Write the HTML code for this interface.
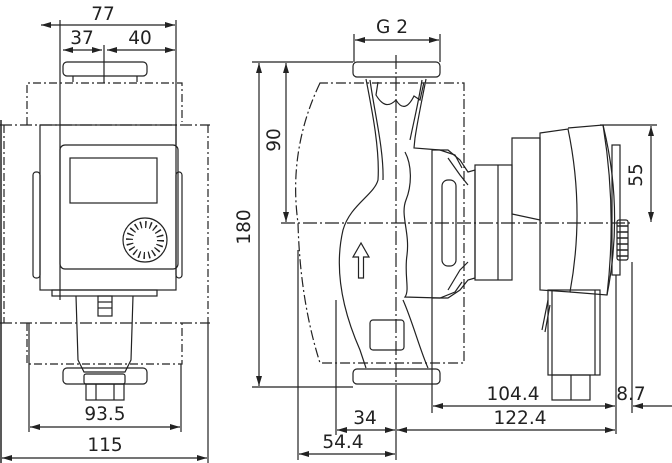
<!DOCTYPE html>
<html><head><meta charset="utf-8"><style>
html,body{margin:0;padding:0;background:#fff;}
svg{display:block;}
text{font-family:"DejaVu Sans","Liberation Sans",sans-serif;font-size:18.5px;fill:#222;}
</style></head><body>
<svg width="672" height="463" viewBox="0 0 672 463" xmlns="http://www.w3.org/2000/svg">
<defs>
<marker id="a" viewBox="0 0 10 6" refX="10" refY="3" markerWidth="10" markerHeight="6" orient="auto-start-reverse" markerUnits="userSpaceOnUse"><path d="M0,0 L10,3 L0,6 z" fill="#222"/></marker>
</defs>
<g fill="none" stroke="#222" stroke-width="1.2">
<line x1="60" y1="20" x2="60" y2="300"/>
<line x1="176" y1="20" x2="176" y2="145"/>
<line x1="41" y1="25" x2="175" y2="25" marker-start="url(#a)" marker-end="url(#a)"/>
<line x1="63" y1="50" x2="102" y2="50" marker-start="url(#a)" marker-end="url(#a)"/>
<line x1="107" y1="50" x2="175" y2="50" marker-start="url(#a)" marker-end="url(#a)"/>
<line x1="104" y1="45" x2="104" y2="83"/>
<rect x="63" y="62" width="84" height="14" rx="4"/>
<line x1="73" y1="76" x2="73" y2="82"/><line x1="137" y1="76" x2="137" y2="82"/>
<path d="M27,125 V83 H182 V122" stroke-dasharray="8,3,2,3"/>
<line x1="0" y1="125" x2="210" y2="125" stroke-dasharray="12,3,2,3"/>
<line x1="4" y1="125" x2="4" y2="323" stroke-dasharray="8,3,2,3"/>
<line x1="208" y1="125" x2="208" y2="323" stroke-dasharray="8,3,2,3"/>
<line x1="1" y1="120" x2="1" y2="463" stroke-width="1.5"/>
<line x1="0" y1="323" x2="210" y2="323" stroke-dasharray="12,3,2,3"/>
<path d="M27,323 V364 H182 V323" stroke-dasharray="8,3,2,3"/>
<rect x="40" y="125" width="136" height="165"/>
<rect x="33" y="172" width="7" height="106" rx="3"/>
<rect x="176" y="172" width="6" height="106" rx="3"/>
<rect x="60" y="145" width="118" height="124" rx="5"/>
<rect x="70" y="158" width="87" height="45"/>
<circle cx="145" cy="240" r="22"/>
<circle cx="145" cy="240" r="15.5" stroke-width="7" stroke-dasharray="1.4,3.47"/>
<circle cx="145" cy="240" r="12" fill="#fff" stroke="none"/>
<rect x="52" y="290" width="105" height="6"/>
<path d="M76,296 L78,360 L84,372 L125,372 L131,360 L133,296"/>
<rect x="98" y="296" width="14" height="20"/>
<line x1="98" y1="302" x2="112" y2="302"/><line x1="98" y1="308" x2="112" y2="308"/>
<rect x="63" y="368" width="84" height="16" rx="4"/>
<rect x="84" y="374" width="41" height="10" rx="2"/>
<rect x="86" y="384" width="38" height="16"/>
<line x1="96" y1="384" x2="96" y2="400"/><line x1="114" y1="384" x2="114" y2="400"/>
<line x1="29" y1="323" x2="29" y2="432"/>
<line x1="181" y1="364" x2="181" y2="432"/>
<line x1="30" y1="427" x2="180" y2="427" marker-start="url(#a)" marker-end="url(#a)"/>
<line x1="208" y1="323" x2="208" y2="463"/>
<line x1="2" y1="458" x2="207" y2="458" marker-start="url(#a)" marker-end="url(#a)"/>

<line x1="354" y1="34" x2="354" y2="62"/><line x1="440" y1="34" x2="440" y2="62"/>
<line x1="355" y1="40" x2="439" y2="40" marker-start="url(#a)" marker-end="url(#a)"/>
<rect x="353" y="62" width="87" height="15" rx="4"/>
<rect x="353" y="369" width="87" height="15" rx="4"/>
<line x1="396" y1="55" x2="396" y2="392" stroke-dasharray="14,3,2,3"/>
<line x1="252" y1="62" x2="353" y2="62"/>
<line x1="252" y1="387" x2="353" y2="387"/>
<line x1="259" y1="63" x2="259" y2="386" marker-start="url(#a)" marker-end="url(#a)"/>
<line x1="286" y1="63" x2="286" y2="222" marker-start="url(#a)" marker-end="url(#a)"/>
<line x1="281" y1="223" x2="632" y2="223" stroke-dasharray="14,3,2,3"/>
<path d="M320,83 Q288,150 298,223 Q300,300 320,363 H464 V83 Z" stroke-dasharray="10,3,2,3"/>
<path d="M366,79 C372,110 380,150 378,180 C374,195 350,205 343,230 C336,260 338,300 360,350 L366,368"/>
<path d="M426,79 C422,100 418,118 415,138 L414,148 L440,150 L455,155 L462,168"/>
<path d="M370,80 C374,110 384,150 383,180 M422,80 C418,105 413,125 410,140"/>
<path d="M378,82 L376,95 C382,105 388,108 396,100 C402,110 408,108 414,96 L420,100 L424,82"/>
<path d="M405,152 C412,165 412,185 406,200 C400,215 410,232 407,255 C404,275 410,290 405,297 L440,298 L455,292 L462,282"/>
<path d="M403,300 C412,320 420,350 428,368"/>
<path d="M361,243 L353,257 L358.5,257 L358.5,278 L363.5,278 L363.5,257 L369,257 Z"/>
<rect x="370" y="320" width="34" height="30" rx="3"/>
<line x1="432" y1="150" x2="432" y2="413"/>
<path d="M432,150 H448 L460,160 L468,172 L475,170 V278 L468,280 L460,290 L448,298 H432"/>
<rect x="442" y="180" width="14" height="86" rx="6"/>
<path d="M448,158 L460,175 L468,185 M448,290 L460,270 L468,262"/>
<rect x="475" y="165" width="37" height="115"/>
<line x1="498" y1="165" x2="498" y2="280"/>
<path d="M512,138 H540 V220 L512,214 Z"/>
<path d="M540,133 L568,129 Q585,210 570,292 L540,290 Z"/>
<path d="M568,128 L603,125 Q617,210 607,295 L570,292"/>
<path d="M603,125 Q624,210 607,295"/>
<rect x="612" y="145" width="8" height="130"/>
<rect x="617" y="220" width="11" height="40" rx="2"/>
<g stroke-width="1.5"><line x1="617" y1="226" x2="628" y2="226"/><line x1="617" y1="232" x2="628" y2="232"/><line x1="617" y1="238" x2="628" y2="238"/><line x1="617" y1="244" x2="628" y2="244"/><line x1="617" y1="250" x2="628" y2="250"/><line x1="617" y1="256" x2="628" y2="256"/></g>
<rect x="548" y="290" width="52" height="85"/>
<line x1="552" y1="290" x2="552" y2="375"/><line x1="595" y1="290" x2="595" y2="375"/>
<path d="M548,300 L542,330 M550,305 L545,332"/>
<rect x="552" y="375" width="38" height="25"/>
<line x1="571" y1="375" x2="571" y2="400"/>
<line x1="600" y1="125" x2="657" y2="125"/>
<line x1="651" y1="126" x2="651" y2="222" marker-start="url(#a)" marker-end="url(#a)"/>
<line x1="616" y1="275" x2="616" y2="434"/>
<line x1="632" y1="262" x2="632" y2="413"/>
<line x1="433" y1="406" x2="615" y2="406" marker-start="url(#a)" marker-end="url(#a)"/>
<line x1="672" y1="406" x2="633" y2="406" marker-end="url(#a)"/>
<line x1="397" y1="430" x2="615" y2="430" marker-start="url(#a)" marker-end="url(#a)"/>
<line x1="336" y1="300" x2="336" y2="435"/>
<line x1="337" y1="430" x2="395" y2="430" marker-start="url(#a)" marker-end="url(#a)"/>
<line x1="298" y1="250" x2="298" y2="460"/>
<line x1="299" y1="454" x2="395" y2="454" marker-start="url(#a)" marker-end="url(#a)"/>
<line x1="396" y1="392" x2="396" y2="460"/>
</g>
<text x="103" y="20" text-anchor="middle">77</text>
<text x="82" y="44" text-anchor="middle">37</text>
<text x="140" y="44" text-anchor="middle">40</text>
<text x="105" y="420" text-anchor="middle">93.5</text>
<text x="105" y="451" text-anchor="middle">115</text>
<text x="392" y="33" text-anchor="middle">G 2</text>
<text transform="translate(250,227) rotate(-90)" text-anchor="middle">180</text>
<text transform="translate(280,140) rotate(-90)" text-anchor="middle">90</text>
<text transform="translate(642,175) rotate(-90)" text-anchor="middle">55</text>
<text x="513" y="400" text-anchor="middle">104.4</text>
<text x="631" y="400" text-anchor="middle">8.7</text>
<text x="520" y="424" text-anchor="middle">122.4</text>
<text x="365" y="424" text-anchor="middle">34</text>
<text x="343" y="448" text-anchor="middle">54.4</text>
</svg>
</body></html>
